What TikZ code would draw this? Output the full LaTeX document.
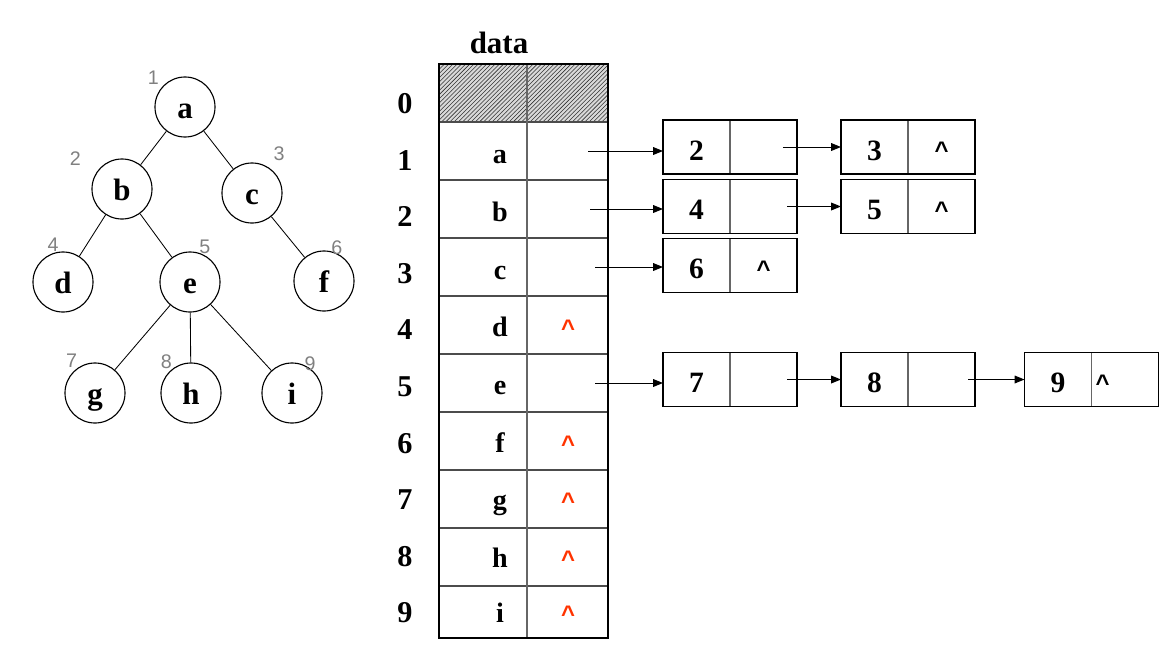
\documentclass[tikz,border=0pt]{standalone}
\usepackage{fontspec}
\setmainfont{Liberation Serif}
\newfontfamily\MySans{Liberation Sans}
\usetikzlibrary{arrows.meta}
\usetikzlibrary{positioning}
\usetikzlibrary{patterns}
\definecolor{MyRed}{RGB}{255,51,0}
\tikzset{
    MyPx/.style={x=0.025cm,y=-0.025cm},
    MyNode/.style={circle,draw=black,line width=0.8pt,minimum size=1.5cm,inner sep=0pt,
    font=\fontsize{22}{26}\selectfont\bfseries,text height=17pt,text depth=0pt},
    MyNum/.style={inner sep=0pt,text=gray,font=\MySans\fontsize{14}{16}\selectfont},
    MyIdx/.style={inner sep=0pt,anchor=base,font=\fontsize{21.5}{25}\selectfont\bfseries},
    MyData/.style={inner sep=0pt,anchor=base,font=\fontsize{20}{24}\selectfont\bfseries},
    MyNil/.style={inner sep=0pt,font=\MySans\fontsize{17}{20}\selectfont\bfseries},
    MyEnd/.style={label={[MyNil,yshift=-2.5pt,#1]center:\textasciicircum}},
    MyEnd/.default={},
    MyField/.style={draw=black!60,line width=0.9pt,minimum width=1.675cm,
    minimum height=1.35cm,inner sep=0pt,outer sep=0pt},
    MyVal/.style={MyField,font=\fontsize{21}{25}\selectfont\bfseries,
    text height=18.5pt,text depth=0pt},
    MyLink/.style={-{Triangle[length=7pt,width=5.5pt]},line width=0.7pt}    }

\begin{document}
\begin{tikzpicture}[MyPx]
    \useasboundingbox (0,0) rectangle (1164,652);

    % the tree, with the order numbers
    \node[MyNode,label={[MyNum,label distance=2.6pt]139:1}] (a) at (185,107) {a};
    \node[MyNode,label={[MyNum,label distance=11.8pt]150:2}] (b) at (122,189) {b};
    \node[MyNode,label={[MyNum,label distance=5.4pt]56:3}] (c) at (252,193) {c};
    \node[MyNode,label={[MyNum,label distance=0pt]98:4}] (d) at (63,282) {d};
    \node[MyNode,label={[MyNum,label distance=-1pt]72:5}] (e) at (190,282) {e};
    \node[MyNode,label={[MyNum,label distance=-2.3pt]75:6}] (f) at (324,281) {f};
    \node[MyNode,label={[MyNum,label distance=0pt]125:7}] (g) at (95,393) {g};
    \node[MyNode,label={[MyNum,label distance=0pt]128:8}] (h) at (191,393) {h};
    \node[MyNode,label={[MyNum,label distance=-3.5pt]61:9}] (i) at (292,393) {i};
    \foreach \u/\w in {a/b,a/c,b/d,b/e,c/f,e/g,e/h,e/i}
        \draw[line width=0.6pt] (\u) -- (\w);

    % the table
    \fill[gray!30] (439,64) rectangle (608,122);
    \fill[pattern=north east lines,pattern color=black!80] (439,64) rectangle (608,122);
    \foreach \r in {1,...,9}
        \draw[black!70,line width=0.9pt] (439,{64+58*\r}) -- (608,{64+58*\r});
    \draw[black!60,line width=0.9pt] (527,64) -- (527,638);
    \draw[line width=1.2pt] (439,64) rectangle (608,638);

    \node[inner sep=0pt,anchor=base,font=\fontsize{22}{26}\selectfont\bfseries]
        (data) at (499,53) {data};
    \foreach \r/\y in {0/113,1/170,2/226,3/283,4/339,5/396,6/453,7/509,8/566,9/622}
        \node[MyIdx] (i\r) at (405,\y) {\r};
    \foreach \r/\t/\y in {1/a/163,2/b/221,3/c/279,4/d/336,5/e/394,6/f/452,7/g/509,8/h/567,9/i/622}
        \node[MyData] (t\r) at (500,\y) {\t};
    \foreach \r/\y in {4/336,6/452,7/509,8/567,9/622}
        \node[MyNil,anchor=base,text=MyRed] (z\r) at (568,\y) {\textasciicircum};

    % the child lists
    \node[MyVal] (v2) at (696.5,147) {2};
    \node[MyField,right=0pt of v2] (n2) {};
    \node[MyVal] (v3) at (874.5,147) {3};
    \node[MyField,MyEnd,right=0pt of v3] (n3) {};
    \node[MyVal] (v4) at (696.5,206.5) {4};
    \node[MyField,right=0pt of v4] (n4) {};
    \node[MyVal] (v5) at (874.5,206.5) {5};
    \node[MyField,MyEnd,right=0pt of v5] (n5) {};
    \node[MyVal] (v6) at (696.5,265.5) {6};
    \node[MyField,MyEnd,right=0pt of v6] (n6) {};
    \node[MyVal] (v7) at (696.5,379.5) {7};
    \node[MyField,right=0pt of v7] (n7) {};
    \node[MyVal] (v8) at (874.5,379.5) {8};
    \node[MyField,right=0pt of v8] (n8) {};
    \node[MyVal] (v9) at (1058,379.5) {9};
    \node[MyField,MyEnd={xshift=-16pt},right=0pt of v9] (n9) {};
    \foreach \k in {2,...,9}
        \draw[line width=1.2pt] (v\k.north west) rectangle (n\k.south east);

    % pointers
    \coordinate (s1) at (588,151);
    \coordinate (s2) at (590,209);
    \coordinate (s3) at (595,267);
    \coordinate (s5) at (595,383);
    \coordinate (q2) at ([xshift=-10pt]n2.east);
    \coordinate (q4) at ([xshift=-7pt]n4.east);
    \coordinate (q7) at ([xshift=-7pt]n7.east);
    \coordinate (q8) at ([xshift=-5pt]n8.east);
    \draw[MyLink] (s1) -- (s1 -| v2.west);
    \draw[MyLink] (s2) -- (s2 -| v4.west);
    \draw[MyLink] (s3) -- (s3 -| v6.west);
    \draw[MyLink] (s5) -- (s5 -| v7.west);
    \draw[MyLink] (q2) -- (q2 -| v3.west);
    \draw[MyLink] (q4) -- (q4 -| v5.west);
    \draw[MyLink] (q7) -- (q7 -| v8.west);
    \draw[MyLink] (q8) -- (q8 -| v9.west);
\end{tikzpicture}
\end{document}
